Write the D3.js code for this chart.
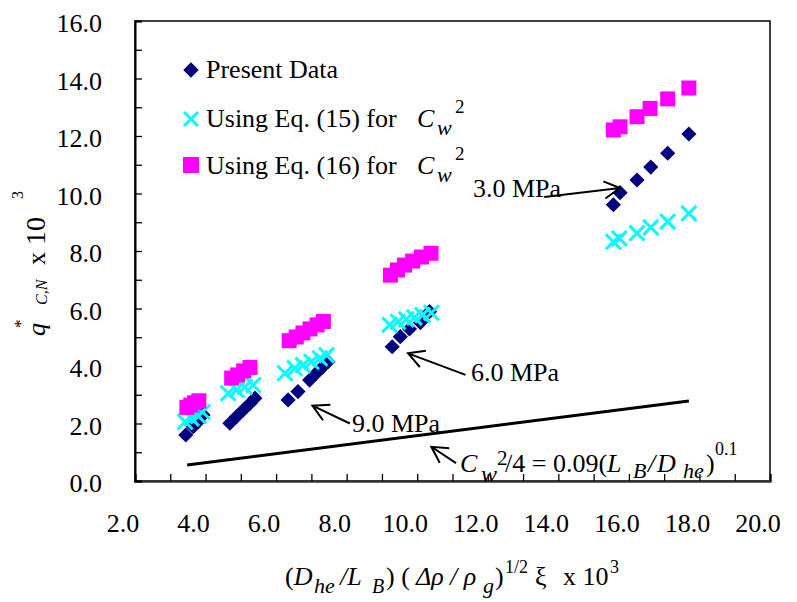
<!DOCTYPE html>
<html>
<head>
<meta charset="utf-8">
<script src="https://cdn.jsdelivr.net/npm/d3@7"></script>
<style>
body { margin: 0; background: #fff; }
svg text { font-family: "Liberation Serif", "Times New Roman", serif; fill: #000; }
</style>
</head>
<body>
<svg width="797" height="602"></svg>
<script>

// Present Data (navy diamonds)
var presentX = [3.44, 3.65, 3.79, 3.93, 4.69, 4.88, 5.07, 5.26, 5.40,
                6.34, 6.62, 6.95, 7.14, 7.33, 7.47, 9.29, 9.52, 9.78, 10.09, 10.35,
                15.56, 15.75, 16.23, 16.62, 17.10, 17.70];
var presentY = [1.60, 1.89, 2.06, 2.30, 2.01, 2.24, 2.47, 2.70, 2.88,
                2.82, 3.11, 3.51, 3.75, 3.98, 4.15, 4.67, 5.02, 5.29, 5.51, 5.89,
                9.61, 10.03, 10.47, 10.92, 11.40, 12.07];

// Using Eq. (15) (cyan crosses)
var eq15X = [3.42, 3.60, 3.79, 3.92, 4.64, 4.88, 5.11, 5.35,
             6.25, 6.53, 6.76, 7.00, 7.24, 7.43, 9.22, 9.45, 9.69, 9.92, 10.15, 10.40,
             15.56, 15.73, 16.23, 16.62, 17.10, 17.70];
var eq15Y = [2.06, 2.18, 2.26, 2.40, 3.05, 3.17, 3.27, 3.34,
             3.75, 3.92, 4.03, 4.15, 4.27, 4.38, 5.43, 5.54, 5.62, 5.69, 5.77, 5.85,
             8.32, 8.44, 8.62, 8.82, 9.02, 9.31];

// Using Eq. (16) (magenta squares)
var eq16X = [3.47, 3.58, 3.69, 3.81, 4.74, 4.91, 5.08, 5.26,
             6.37, 6.57, 6.76, 6.96, 7.16, 7.34, 9.24, 9.44, 9.64, 9.87, 10.12, 10.39,
             15.56, 15.75, 16.23, 16.60, 17.10, 17.70];
var eq16Y = [2.56, 2.64, 2.72, 2.79, 3.58, 3.69, 3.83, 3.95,
             4.88, 5.01, 5.15, 5.29, 5.43, 5.55, 7.16, 7.34, 7.51, 7.65, 7.79, 7.92,
             12.21, 12.32, 12.67, 12.96, 13.29, 13.67];

// correlation line Cw^2/4 = 0.09(LB/Dhe)^0.1
var fitX = [3.48, 17.70];
var fitY = [0.56, 2.78];

var xTickLabels = ["2.0", "4.0", "6.0", "8.0", "10.0", "12.0", "14.0", "16.0", "18.0", "20.0"];
var yTickLabels = ["0.0", "2.0", "4.0", "6.0", "8.0", "10.0", "12.0", "14.0", "16.0"];

// pressure annotations: label, arrow tail (x,y), arrow tip (x,y)
var pressNames = ["3.0 MPa", "6.0 MPa", "9.0 MPa"];
var pressTail = [[13.6, 9.88], [11.37, 3.69], [8.09, 2.00]];
var pressTip = [[15.75, 10.19], [9.74, 4.44], [7.03, 2.62]];

var svg = d3.select("svg");
var plotL = 135, plotR = 770, plotT = 21, plotB = 481;

var x = d3.scaleLinear().domain([2, 20]).range([plotL, plotR]);
var y = d3.scaleLinear().domain([0, 16]).range([plotB, plotT]);

// plot frame
svg.append("rect")
  .attr("x", plotL).attr("y", plotT)
  .attr("width", plotR - plotL).attr("height", plotB - plotT)
  .attr("fill", "none").attr("stroke", "#000").attr("stroke-width", 1.5);

// axes with inward ticks every 1.0
var xAxis = svg.append("g")
  .attr("transform", "translate(0," + plotB + ")")
  .call(d3.axisBottom(x).tickValues(d3.range(2, 20.5, 1)).tickSize(-7).tickFormat(""));
var yAxis = svg.append("g")
  .attr("transform", "translate(" + plotL + ",0)")
  .call(d3.axisLeft(y).tickValues(d3.range(0, 16.5, 1)).tickSize(-7).tickFormat(""));
xAxis.selectAll("line").attr("stroke", "#000").attr("stroke-width", 1.3);
yAxis.selectAll("line").attr("stroke", "#000").attr("stroke-width", 1.3);
xAxis.select(".domain").attr("stroke", "#333").attr("stroke-width", 2.5);
yAxis.select(".domain").attr("stroke", "#000").attr("stroke-width", 2);

// tick labels
svg.selectAll(".xlab").data(xTickLabels).enter().append("text")
  .attr("class", "xlab")
  .attr("x", function(d) { return x(+d) - 12; })
  .attr("y", 532)
  .attr("text-anchor", "middle")
  .style("font-size", "26px")
  .text(function(d) { return d; });

svg.selectAll(".ylab").data(yTickLabels).enter().append("text")
  .attr("class", "ylab")
  .attr("x", 102)
  .attr("y", function(d) { return y(+d) + 11; })
  .attr("text-anchor", "end")
  .style("font-size", "26px")
  .text(function(d) { return d; });

// correlation line
svg.append("path")
  .datum(d3.zip(fitX, fitY))
  .attr("d", d3.line().x(function(d) { return x(d[0]); }).y(function(d) { return y(d[1]); }))
  .attr("stroke", "#000").attr("stroke-width", 3).attr("fill", "none");

// series
var diamond = d3.symbol().type(d3.symbolSquare).size(115);
svg.append("g").selectAll("path").data(d3.zip(presentX, presentY)).enter().append("path")
  .attr("d", diamond)
  .attr("transform", function(d) { return "translate(" + x(d[0]) + "," + y(d[1]) + ") rotate(45)"; })
  .attr("fill", "#000080");

function crossPath(s) {
  return "M" + (-s) + "," + (-s) + "L" + s + "," + s + "M" + (-s) + "," + s + "L" + s + "," + (-s);
}
svg.append("g").selectAll("path").data(d3.zip(eq15X, eq15Y)).enter().append("path")
  .attr("d", crossPath(7.5))
  .attr("transform", function(d) { return "translate(" + x(d[0]) + "," + y(d[1]) + ")"; })
  .attr("stroke", "#00FFFF").attr("stroke-width", 3).attr("fill", "none");

var square = d3.symbol().type(d3.symbolSquare).size(225);
svg.append("g").selectAll("path").data(d3.zip(eq16X, eq16Y)).enter().append("path")
  .attr("d", square)
  .attr("transform", function(d) { return "translate(" + x(d[0]) + "," + y(d[1]) + ")"; })
  .attr("fill", "#FF00FF");

// arrows
function arrow(x0, y0, x1, y1) {
  var a = Math.atan2(y1 - y0, x1 - x0), L = 18, h = 0.5;
  var p = "M" + x0 + "," + y0 + "L" + x1 + "," + y1;
  p += "M" + (x1 - L * Math.cos(a - h)) + "," + (y1 - L * Math.sin(a - h)) + "L" + x1 + "," + y1;
  p += "L" + (x1 - L * Math.cos(a + h)) + "," + (y1 - L * Math.sin(a + h));
  svg.append("path").attr("d", p).attr("stroke", "#000").attr("stroke-width", 2).attr("fill", "none");
}
for (var i = 0; i < pressNames.length; i++) {
  arrow(x(pressTail[i][0]), y(pressTail[i][1]), x(pressTip[i][0]), y(pressTip[i][1]));
}
svg.append("text").attr("x", 473).attr("y", 197).style("font-size", "26px").text(pressNames[0]);
svg.append("text").attr("x", 471).attr("y", 381).style("font-size", "26px").text(pressNames[1]);
svg.append("text").attr("x", 352).attr("y", 432).style("font-size", "26px").text(pressNames[2]);

// formula annotation
arrow(x(11.1), y(0.62), x(10.4), y(1.19));
var f = svg.append("text").attr("y", 472).style("font-size", "26px");
f.append("tspan").attr("x", 460).style("font-style", "italic").text("C");
f.append("tspan").attr("x", 481).style("font-style", "italic").style("font-size", "24px").attr("dy", 10).text("w");
f.append("tspan").attr("x", 497).style("font-size", "21px").attr("dy", -17).text("2");
f.append("tspan").attr("x", 505).attr("dy", 7).text("/4 = 0.09(");
f.append("tspan").attr("x", 607).style("font-style", "italic").text("L");
f.append("tspan").attr("x", 633).style("font-style", "italic").style("font-size", "22px").attr("dy", 6).text("B");
f.append("tspan").attr("x", 648).style("font-style", "italic").attr("dy", -6).text("/");
f.append("tspan").attr("x", 657).style("font-style", "italic").text("D");
f.append("tspan").attr("x", 683).style("font-style", "italic").style("font-size", "22px").attr("dy", 6).text("he");
f.append("tspan").attr("x", 706).attr("dy", -6).text(")");
f.append("tspan").attr("x", 715).style("font-size", "18px").attr("dy", -17).text("0.1");

// legend
var lg = svg.append("g");
lg.append("path").attr("d", d3.symbol().type(d3.symbolSquare).size(120))
  .attr("transform", "translate(191,70) rotate(45)").attr("fill", "#000080");
lg.append("path").attr("d", crossPath(7)).attr("transform", "translate(191,119)")
  .attr("stroke", "#00FFFF").attr("stroke-width", 3);
lg.append("rect").attr("x", 183).attr("y", 157).attr("width", 16).attr("height", 16).attr("fill", "#FF00FF");
lg.append("text").attr("x", 206).attr("y", 78).style("font-size", "26px").text("Present Data");
[["Using Eq. (15) for", 127], ["Using Eq. (16) for", 174]].forEach(function(r) {
  var t = lg.append("text").attr("x", 206).attr("y", r[1]).style("font-size", "26px");
  t.append("tspan").text(r[0]);
  t.append("tspan").attr("x", 417).style("font-style", "italic").text("C");
  t.append("tspan").attr("x", 437).style("font-style", "italic").style("font-size", "22px").attr("dy", 8).text("w");
  t.append("tspan").attr("x", 455).style("font-size", "19px").attr("dy", -22).text("2");
});

// y axis title (reads bottom to top)
var yt = svg.append("text").attr("transform", "translate(45,336) rotate(-90)")
  .style("font-size", "26px");
yt.append("tspan").attr("x", 0).style("font-style", "italic").text("q");
yt.append("tspan").attr("x", 8).style("font-size", "17px").attr("dy", -19).text("*");
yt.append("tspan").attr("x", 31).style("font-style", "italic").style("font-size", "16px").attr("dy", 21).text("C,N");
yt.append("tspan").attr("x", 71).attr("dy", -2).text("x");
yt.append("tspan").attr("x", 91).style("font-size", "28px").text("10");
yt.append("tspan").attr("x", 137).style("font-size", "16px").attr("dy", -22).text("3");

// x axis title
var xt = svg.append("text").attr("y", 585).style("font-size", "26px");
xt.append("tspan").attr("x", 285).text("(");
xt.append("tspan").style("font-style", "italic").text("D");
xt.append("tspan").attr("x", 314).style("font-style", "italic").style("font-size", "22px").attr("dy", 8).text("he");
xt.append("tspan").attr("x", 340).style("font-style", "italic").attr("dy", -8).text("/L");
xt.append("tspan").attr("x", 372).style("font-style", "italic").style("font-size", "20px").attr("dy", 8).text("B");
xt.append("tspan").attr("x", 386).attr("dy", -8).text(") (");
xt.append("tspan").attr("x", 416).style("font-style", "italic").text("\u0394\u03c1");
xt.append("tspan").attr("x", 450).style("font-style", "italic").text("/ \u03c1");
xt.append("tspan").attr("x", 483).style("font-style", "italic").style("font-size", "22px").attr("dy", 8).text("g");
xt.append("tspan").attr("x", 495).attr("dy", -8).text(")");
xt.append("tspan").attr("x", 505).style("font-size", "18px").attr("dy", -12).text("1/2");
xt.append("tspan").attr("x", 535).attr("dy", 12).text("\u03be");
xt.append("tspan").attr("x", 563).text("x 10");
xt.append("tspan").attr("x", 610).style("font-size", "18px").attr("dy", -12).text("3");

</script>
</body>
</html>
